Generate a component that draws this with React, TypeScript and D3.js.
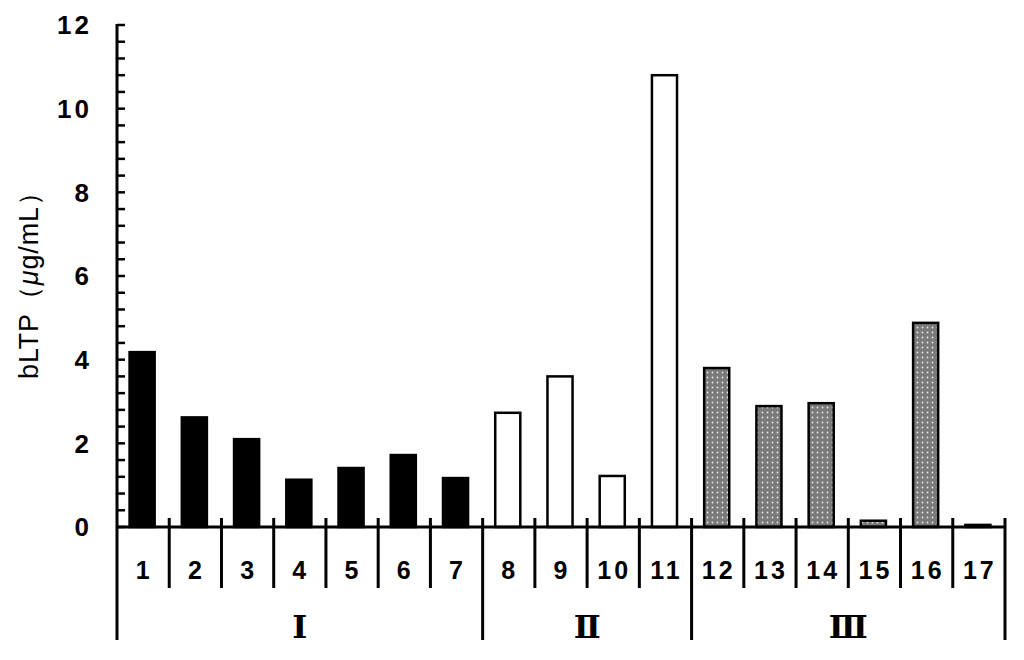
import React, { useEffect, useRef } from 'react'
import * as d3 from 'd3'

const categories = ['1', '2', '3', '4', '5', '6', '7', '8', '9', '10', '11', '12', '13', '14', '15', '16', '17']
const values = [4.18, 2.62, 2.1, 1.13, 1.41, 1.72, 1.17, 2.73, 3.6, 1.22, 10.8, 3.8, 2.89, 2.96, 0.15, 4.88, 0.05]
const groups = ['Ⅰ', 'Ⅰ', 'Ⅰ', 'Ⅰ', 'Ⅰ', 'Ⅰ', 'Ⅰ', 'Ⅱ', 'Ⅱ', 'Ⅱ', 'Ⅱ', 'Ⅲ', 'Ⅲ', 'Ⅲ', 'Ⅲ', 'Ⅲ', 'Ⅲ']
const groupNames = ['Ⅰ', 'Ⅱ', 'Ⅲ']
const yTicks = [0, 2, 4, 6, 8, 10, 12]

const width = 1024
const height = 660
const left = 117
const right = 1005
const top = 25
const bottom = 527

const App = () => {
  const ref = useRef<SVGSVGElement>(null)

  useEffect(() => {
    const svg = d3.select(ref.current)
    svg.selectAll('*').remove()

    const x = d3.scaleBand<string>().domain(categories).range([left, right])
    const y = d3.scaleLinear().domain([0, 12]).range([bottom, top])
    const bw = x.bandwidth() * 0.48

    // dotted pattern for group III
    const defs = svg.append('defs')
    const pat = defs.append('pattern')
      .attr('id', 'dots')
      .attr('patternUnits', 'userSpaceOnUse')
      .attr('width', 5)
      .attr('height', 5)
    pat.append('rect').attr('width', 5).attr('height', 5).attr('fill', '#7a7a7a')
    pat.append('circle').attr('cx', 2.5).attr('cy', 2.5).attr('r', 0.9).attr('fill', '#e8e8e8')

    const fill = (g: string) => g === 'Ⅰ' ? '#000' : g === 'Ⅱ' ? '#fff' : 'url(#dots)'

    // bars
    svg.append('g')
      .selectAll('rect')
      .data(values)
      .enter()
      .append('rect')
      .attr('x', (d, i) => (x(categories[i]) as number) + (x.bandwidth() - bw) / 2 - 1)
      .attr('y', d => y(d))
      .attr('width', bw)
      .attr('height', d => bottom - y(d))
      .attr('fill', (d, i) => fill(groups[i]))
      .attr('stroke', '#000')
      .attr('stroke-width', 2.5)

    // y axis with minor ticks
    const minor = d3.range(0, 12.001, 0.4)
    svg.append('g')
      .selectAll('line')
      .data(minor)
      .enter()
      .append('line')
      .attr('x1', left)
      .attr('x2', left + 8)
      .attr('y1', d => y(d))
      .attr('y2', d => y(d))
      .attr('stroke', '#000')
      .attr('stroke-width', 2.5)

    svg.append('line')
      .attr('x1', left).attr('x2', left)
      .attr('y1', top - 1).attr('y2', 640)
      .attr('stroke', '#000').attr('stroke-width', 3)

    svg.append('g')
      .selectAll('text')
      .data(yTicks)
      .enter()
      .append('text')
      .attr('x', 92)
      .attr('y', d => y(d))
      .attr('dy', '0.36em')
      .attr('text-anchor', 'end')
      .attr('font-family', 'Liberation Sans, Arial, sans-serif')
      .attr('font-weight', 'bold')
      .attr('font-size', 26)
      .attr('letter-spacing', 3)
      .text(d => d)

    // y axis title
    const title = svg.append('text')
      .attr('transform', `translate(38, 279) rotate(-90)`)
      .attr('text-anchor', 'middle')
      .attr('font-family', 'Liberation Sans, Arial, sans-serif')
      .attr('font-size', 27)
      .attr('textLength', 200)
      .attr('lengthAdjust', 'spacing')
    title.append('tspan').text('bLTP（')
    title.append('tspan').attr('font-style', 'italic').text('μ')
    title.append('tspan').text('g/mL）')

    // x axis
    svg.append('line')
      .attr('x1', left).attr('x2', right)
      .attr('y1', bottom).attr('y2', bottom)
      .attr('stroke', '#000').attr('stroke-width', 3)

    // category separators
    const groupStarts = [0, 7, 11, 17]
    const seps = d3.range(1, categories.length + 1)
    svg.append('g')
      .selectAll('line')
      .data(seps)
      .enter()
      .append('line')
      .attr('x1', i => i < categories.length ? (x(categories[i]) as number) : right)
      .attr('x2', i => i < categories.length ? (x(categories[i]) as number) : right)
      .attr('y1', bottom - 9)
      .attr('y2', i => groupStarts.includes(i) ? 640 : 588)
      .attr('stroke', '#000')
      .attr('stroke-width', 3)

    svg.append('g')
      .selectAll('text')
      .data(categories)
      .enter()
      .append('text')
      .attr('x', d => (x(d) as number) + x.bandwidth() / 2 + 1)
      .attr('y', 579)
      .attr('text-anchor', 'middle')
      .attr('font-family', 'Liberation Sans, Arial, sans-serif')
      .attr('font-size', 25)
      .attr('font-weight', 'bold')
      .attr('letter-spacing', 3)
      .text(d => d)

    // group labels
    svg.append('g')
      .selectAll('text')
      .data(groupNames)
      .enter()
      .append('text')
      .attr('x', (d, i) => {
        const a = x(categories[groupStarts[i]]) as number
        const b = groupStarts[i + 1] < categories.length ? (x(categories[groupStarts[i + 1]]) as number) : right
        return (a + b) / 2
      })
      .attr('y', 638)
      .attr('text-anchor', 'middle')
      .attr('font-family', 'DejaVu Serif, serif')
      .attr('font-weight', 'bold')
      .attr('font-size', 32)
      .text(d => d)
  }, [])

  return (
    <svg ref={ref} width={width} height={height}
      style={{ position: 'absolute', left: 0, top: 0, background: '#fff' }} />
  )
}

export default App
